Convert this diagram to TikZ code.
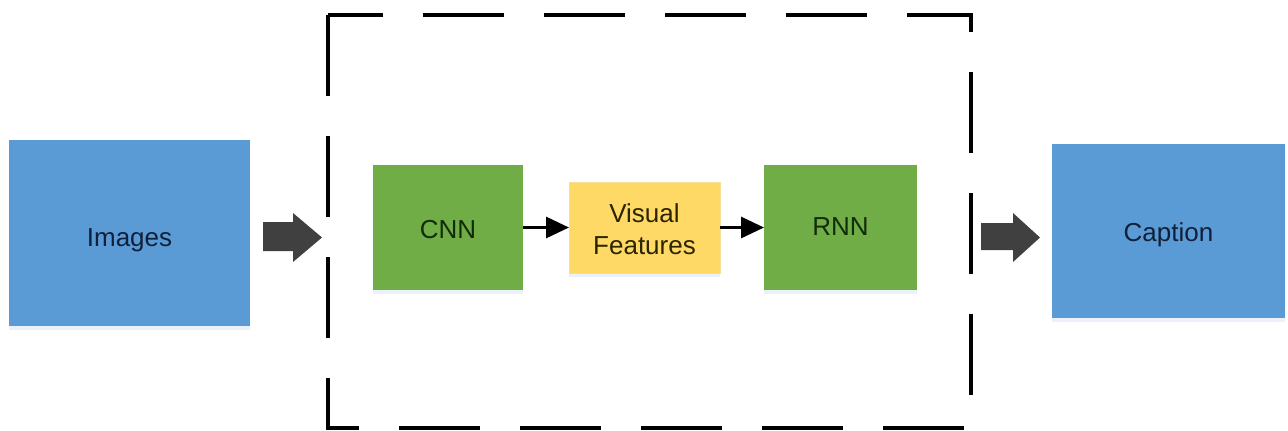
\documentclass[tikz,border=0pt]{standalone}
\usepackage{fontspec}
\setmainfont{Liberation Sans}
\usetikzlibrary{arrows.meta,shadows}

\definecolor{boxblue}{HTML}{5B9BD5}
\definecolor{boxgreen}{HTML}{70AD47}
\definecolor{boxyellow}{HTML}{FFD966}
\definecolor{yellowedge}{HTML}{F5DE96}
\definecolor{txtblue}{HTML}{10203A}
\definecolor{txtgreen}{HTML}{112C08}
\definecolor{txtyellow}{HTML}{2A2400}
\definecolor{arrowgray}{HTML}{404040}
\definecolor{shadowtint}{HTML}{4472C4}

% text lowered by a given amount relative to the box centre
\newcommand{\lowered}[2]{\raisebox{-#1}[0pt][0pt]{#2}}

\tikzset{
  block/.style={inner sep=0pt, outer sep=0pt, align=center,
    font=\fontsize{13}{16}\selectfont,
    drop shadow={shadow xshift=0pt, shadow yshift=-1.8pt,
      fill=shadowtint, opacity=0.10}},
  iobox/.style={block, fill=boxblue, text=txtblue},
  netbox/.style={block, fill=boxgreen, text=txtgreen,
    minimum width=75pt, minimum height=62.5pt},
  featbox/.style={block, fill=boxyellow, draw=yellowedge, line width=0.5pt,
    text=txtyellow, minimum width=75.5pt, minimum height=45.5pt},
  flow/.style={line width=1.5pt, -{Triangle[length=11.5pt,width=10.5pt]}},
  bigarrow/.style={fill=arrowgray},
  frame/.style={line width=2.2pt, line join=miter,
    dash pattern=on 40.5pt off 20pt}
}

\begin{document}
\begin{tikzpicture}[x=0.5pt, y=-0.5pt]
  \useasboundingbox (0,0) rectangle (1288,430);

  % input and output
  \node[iobox, minimum width=120.5pt, minimum height=93pt] (images)
    at (129.5,233) {\lowered{6.8pt}{Images}};
  \node[iobox, minimum width=116.5pt, minimum height=87pt] (caption)
    at (1168.5,231) {\lowered{5.3pt}{Caption}};

  % encoder-decoder pipeline
  \node[netbox] (cnn) at (448,227.5) {\lowered{5.3pt}{CNN}};
  \node[featbox] (feat) at (644.5,227.5)
    {\lowered{5.4pt}{\begin{tabular}{@{}c@{}}Visual\\Features\end{tabular}}};
  \node[netbox, minimum width=76.5pt] (rnn) at (840.5,227.5) {\lowered{3.8pt}{RNN}};

  \draw[flow] (cnn.east) -- (feat.west);
  \draw[flow] (feat.east) -- (rnn.west);

  % dashed model boundary, traced counter-clockwise from the top-left corner
  \coordinate (tl) at (328,15);
  \coordinate (bl) at (328,428);
  \coordinate (br) at (971,428);
  \coordinate (tr) at (971,15);
  \draw[frame] (tl) -- (bl) -- (br) -- (tr) -- cycle;

  % block arrows into and out of the model
  \fill[bigarrow] (263,222) -- (293,222) -- (293,213) -- (322,237.5)
    -- (293,262) -- (293,251) -- (263,251) -- cycle;
  \fill[bigarrow] (981,223) -- (1013,223) -- (1013,213) -- (1040,237.5)
    -- (1013,262) -- (1013,250) -- (981,250) -- cycle;
\end{tikzpicture}
\end{document}
